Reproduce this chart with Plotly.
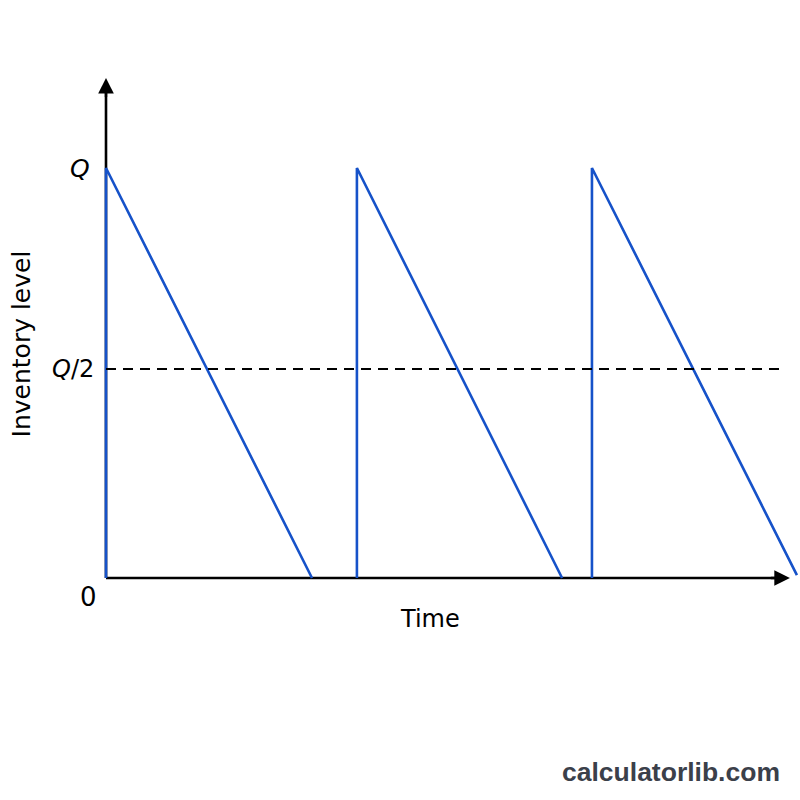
import plotly.graph_objects as go

# Data: sawtooth inventory cycles (time in cycle units, level as fraction of Q)
cycle_starts = [0.0, 1.218, 2.359]
cycle_ends = [1.0, 2.214, 3.354]
end_levels = [0.0, 0.0, 0.007]
q_level = 1.0
half_level = 0.51
level_labels = ["0", "<i>Q</i>/2", "<i>Q</i>"]
x_title = "Time"
y_title = "Inventory level"
watermark = "calculatorlib.com"

blue = "#1652c9"
FONT = "DejaVu Sans"

xs, ys = [], []
for s, e, lv in zip(cycle_starts, cycle_ends, end_levels):
    xs += [s, s, e, None]
    ys += [0.0, q_level, lv, None]

fig = go.Figure()
fig.add_trace(go.Scatter(x=xs, y=ys, mode="lines",
                         line=dict(color=blue, width=2.6),
                         hoverinfo="skip", showlegend=False))

# Dashed Q/2 line
fig.add_trace(go.Scatter(x=[0, 3.27], y=[half_level, half_level], mode="lines",
                         line=dict(color="black", width=2, dash="10px,7px"),
                         hoverinfo="skip", showlegend=False))

x_tip = 3.32
y_tip = 1.2195

shapes = [
    dict(type="line", xref="x", yref="y", x0=0, y0=0, x1=x_tip - 0.03, y1=0,
         line=dict(color="black", width=2.6), layer="below"),
    dict(type="line", xref="x", yref="y", x0=0, y0=0, x1=0, y1=y_tip - 0.03,
         line=dict(color="black", width=2.6), layer="below"),
]

annotations = [
    dict(x=x_tip, y=0, ax=x_tip - 0.1, ay=0, xref="x", yref="y", axref="x", ayref="y",
         text="", showarrow=True, arrowhead=2, arrowsize=1.3, arrowwidth=2.4, arrowcolor="black"),
    dict(x=0, y=y_tip, ax=0, ay=y_tip - 0.05, xref="x", yref="y", axref="x", ayref="y",
         text="", showarrow=True, arrowhead=2, arrowsize=1.3, arrowwidth=2.4, arrowcolor="black"),
    dict(x=-0.127, y=q_level, xref="x", yref="y", text=level_labels[2], showarrow=False,
         font=dict(family=FONT, size=25, color="black"), xanchor="center", yanchor="middle"),
    dict(x=-0.16, y=half_level, xref="x", yref="y", text=level_labels[1], showarrow=False,
         font=dict(family=FONT, size=24, color="black"), xanchor="center", yanchor="middle"),
    dict(x=-0.083, y=-0.046, xref="x", yref="y", text=level_labels[0], showarrow=False,
         font=dict(family=FONT, size=26, color="black"), xanchor="center", yanchor="middle"),
    dict(x=1.573, y=-0.10, xref="x", yref="y", text=x_title, showarrow=False,
         font=dict(family=FONT, size=24, color="black"), xanchor="center", yanchor="middle"),
    dict(x=-0.41, y=0.571, xref="x", yref="y", text=y_title, showarrow=False, textangle=-90,
         font=dict(family=FONT, size=25, color="black"), xanchor="center", yanchor="middle"),
    dict(x=782 / 800, y=1 - 772 / 800, xref="paper", yref="paper", text="<b>" + watermark + "</b>",
         showarrow=False, font=dict(family="Liberation Sans", size=26.5, color="#3b404a"),
         xanchor="right", yanchor="middle"),
]

fig.update_layout(
    width=800, height=800,
    margin=dict(l=0, r=0, t=0, b=0),
    paper_bgcolor="white", plot_bgcolor="white",
    xaxis=dict(range=[-106 / 206, 694 / 206], visible=False, fixedrange=True),
    yaxis=dict(range=[-222 / 410, 578 / 410], visible=False, fixedrange=True),
    shapes=shapes, annotations=annotations,
)

fig.write_html("out.html")
